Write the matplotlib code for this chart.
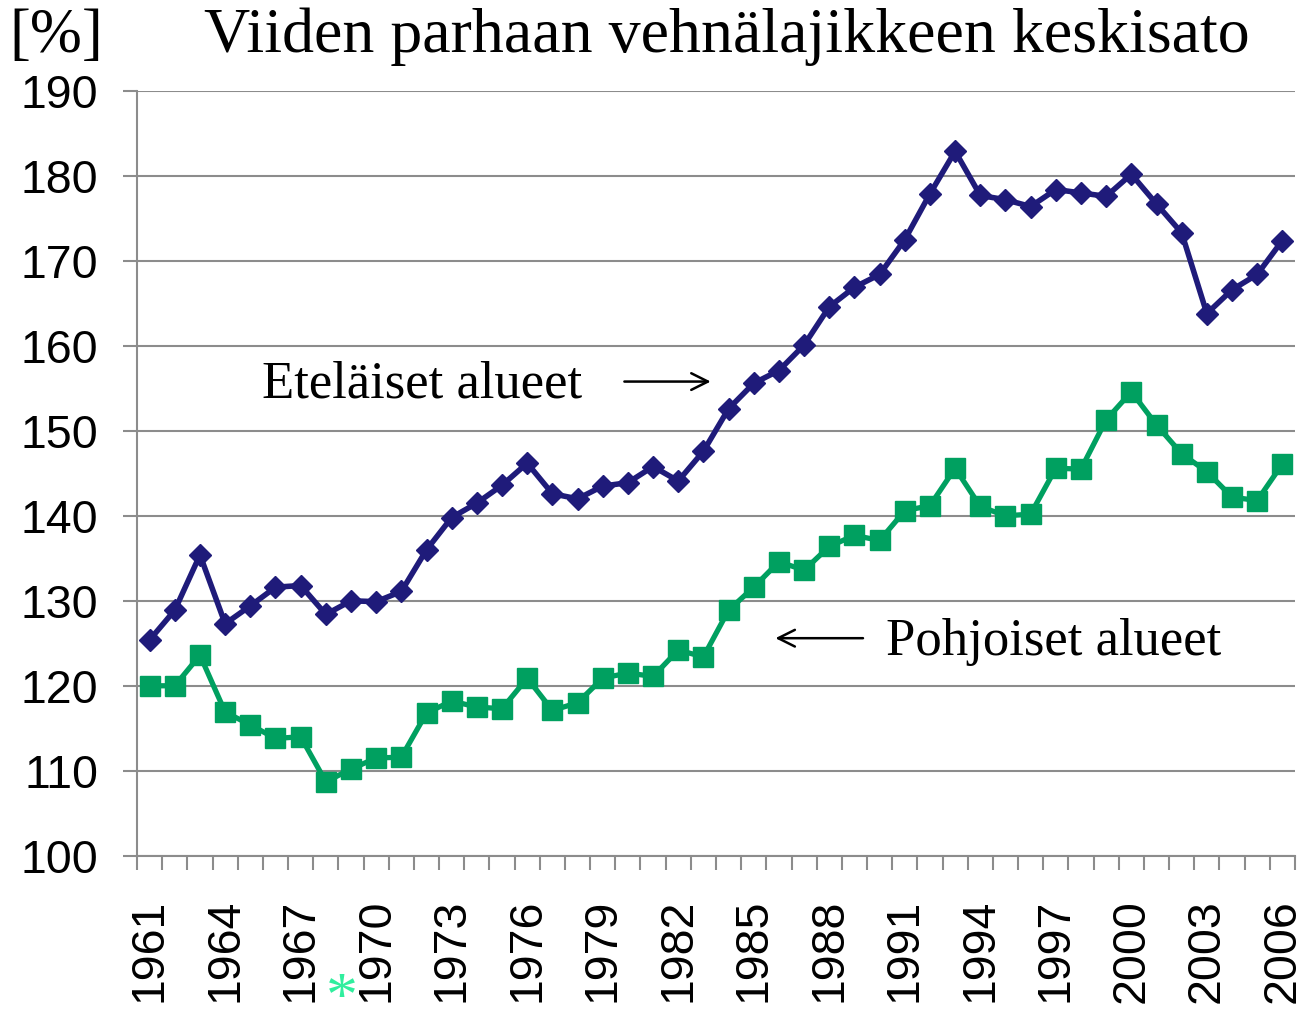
import matplotlib.pyplot as plt
from matplotlib.ticker import FixedLocator, NullFormatter

# Data
years = list(range(1961, 2007))
etelaiset = [125.4, 128.9, 135.4, 127.3, 129.4, 131.6, 131.8, 128.4, 130.0, 129.9,
             131.1, 136.0, 139.8, 141.5, 143.6, 146.2, 142.6, 142.0, 143.5, 143.9,
             145.8, 144.1, 147.6, 152.6, 155.6, 157.1, 160.1, 164.6, 166.9, 168.4,
             172.5, 177.9, 182.9, 177.7, 177.2, 176.4, 178.4, 178.0, 177.6, 180.2,
             176.7, 173.3, 163.8, 166.6, 168.4, 172.4]
pohjoiset = [120.0, 120.0, 123.6, 116.9, 115.4, 113.8, 114.0, 108.7, 110.2, 111.5,
             111.6, 116.8, 118.2, 117.5, 117.3, 120.9, 117.1, 118.0, 120.9, 121.5,
             121.1, 124.2, 123.4, 128.9, 131.6, 134.6, 133.6, 136.4, 137.7, 137.1,
             140.6, 141.2, 145.6, 141.1, 140.0, 140.2, 145.6, 145.5, 151.3, 154.6,
             150.7, 147.3, 145.2, 142.2, 141.8, 146.1]
yticks = list(range(100, 200, 10))

serif = 'Liberation Serif'
sans = 'Liberation Sans'
blue = '#1f1b7a'
green = '#00a060'
gray = '#8c8c8c'

fig = plt.figure(figsize=(13.14, 10.3), dpi=100)
ax = fig.add_axes([0.1043, 0.1692, 0.8812, 0.7425])

x = list(range(len(years)))
ax.plot(x, etelaiset, color=blue, lw=4, marker='D', ms=11, zorder=3)
ax.plot(x, pohjoiset, color=green, lw=3.8, marker='s', ms=14, zorder=3)

ax.set_xlim(-0.5, len(years) - 0.5)
ax.set_ylim(100, 190)
ax.set_yticks(yticks)
ax.yaxis.grid(True, color=gray, lw=1.5)
ax.set_axisbelow(True)

# category axis: labels every third year, tick marks between categories
ax.xaxis.set_major_locator(FixedLocator(x[::3]))
ax.set_xticklabels([str(y) for y in years[::3]], rotation=90)
ax.xaxis.set_minor_locator(FixedLocator([i - 0.5 for i in range(len(years) + 1)]))
ax.xaxis.set_minor_formatter(NullFormatter())
ax.tick_params(axis='x', which='major', length=0, pad=31)
ax.tick_params(axis='x', which='minor', length=10, width=1.5, color=gray)
ax.tick_params(axis='y', length=10, width=1.5, color=gray, pad=18)
for lab in ax.get_xticklabels() + ax.get_yticklabels():
    lab.set_fontfamily(sans)
    lab.set_fontsize(33.5)

for side in ['top', 'right']:
    ax.spines[side].set_visible(False)
for side in ['left', 'bottom']:
    ax.spines[side].set_color(gray)
    ax.spines[side].set_linewidth(1.5)

# annotations
ax.text(4.47, 153.9, 'Eteläiset alueet', fontsize=38, family=serif, va='baseline')
ax.annotate('', xy=(22.4, 155.8), xytext=(18.75, 155.8),
            arrowprops=dict(arrowstyle='->', color='black', lw=1.8, mutation_scale=30))
ax.text(29.26, 123.6, 'Pohjoiset alueet', fontsize=38, family=serif, va='baseline')
ax.annotate('', xy=(24.75, 125.6), xytext=(28.45, 125.6),
            arrowprops=dict(arrowstyle='->', color='black', lw=1.8, mutation_scale=30))

fig.text(0.553, 0.9495, 'Viiden parhaan vehnälajikkeen keskisato', fontsize=46,
         family=serif, ha='center', va='baseline')
fig.text(0.007, 0.9495, '[%]', fontsize=45, family=serif, ha='left', va='baseline')
fig.text(0.26, 0.0, '*', fontsize=46, family=serif, color='#30ee9e', ha='center', va='bottom')

fig.savefig('out.png', dpi=100)
